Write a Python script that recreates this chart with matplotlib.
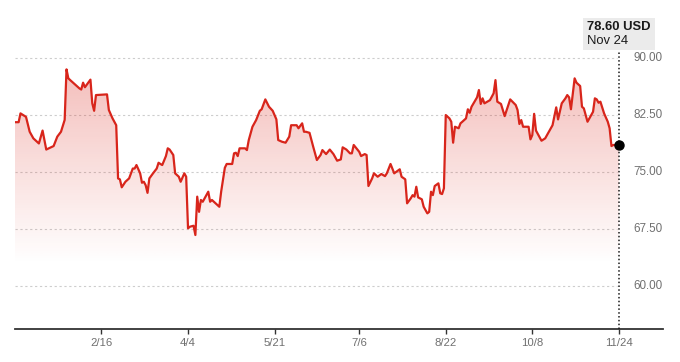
import numpy as np
import pandas as pd
import matplotlib
matplotlib.use("Agg")
import matplotlib.pyplot as plt
import matplotlib.dates as mdates
from matplotlib.patches import Rectangle

plt.rcParams['font.family'] = ['Liberation Sans', 'DejaVu Sans']

# price points (USD)
dates = [
    '2024-12-31', '2025-01-02', '2025-01-03', '2025-01-06', '2025-01-08', '2025-01-10',
    '2025-01-13', '2025-01-15', '2025-01-17', '2025-01-21', '2025-01-23', '2025-01-25',
    '2025-01-27', '2025-01-28', '2025-01-29', '2025-01-30', '2025-02-03', '2025-02-04',
    '2025-02-05', '2025-02-06', '2025-02-07', '2025-02-10', '2025-02-11', '2025-02-12',
    '2025-02-13', '2025-02-19', '2025-02-20', '2025-02-22', '2025-02-24', '2025-02-25',
    '2025-02-26', '2025-02-27', '2025-03-01', '2025-03-03', '2025-03-05', '2025-03-06',
    '2025-03-07', '2025-03-09', '2025-03-10', '2025-03-11', '2025-03-12', '2025-03-13',
    '2025-03-14', '2025-03-16', '2025-03-18', '2025-03-19', '2025-03-20', '2025-03-21',
    '2025-03-23', '2025-03-24', '2025-03-25', '2025-03-27', '2025-03-28', '2025-03-30',
    '2025-03-31', '2025-04-02', '2025-04-03', '2025-04-04', '2025-04-05', '2025-04-07',
    '2025-04-08', '2025-04-09', '2025-04-10', '2025-04-11', '2025-04-12', '2025-04-13',
    '2025-04-15', '2025-04-16', '2025-04-17', '2025-04-19', '2025-04-21', '2025-04-22',
    '2025-04-24', '2025-04-25', '2025-04-28', '2025-04-29', '2025-04-30', '2025-05-01',
    '2025-05-02', '2025-05-05', '2025-05-06', '2025-05-07', '2025-05-09', '2025-05-11',
    '2025-05-13', '2025-05-14', '2025-05-16', '2025-05-18', '2025-05-20', '2025-05-22',
    '2025-05-23', '2025-05-25', '2025-05-27', '2025-05-29', '2025-05-30', '2025-06-02',
    '2025-06-03', '2025-06-05', '2025-06-06', '2025-06-07', '2025-06-09', '2025-06-11',
    '2025-06-13', '2025-06-15', '2025-06-16', '2025-06-18', '2025-06-20', '2025-06-22',
    '2025-06-24', '2025-06-26', '2025-06-27', '2025-06-29', '2025-07-01', '2025-07-02',
    '2025-07-03', '2025-07-06', '2025-07-07', '2025-07-09', '2025-07-10', '2025-07-11',
    '2025-07-13', '2025-07-14', '2025-07-16', '2025-07-18', '2025-07-20', '2025-07-21',
    '2025-07-23', '2025-07-25', '2025-07-28', '2025-07-29', '2025-07-31', '2025-08-01',
    '2025-08-03', '2025-08-04', '2025-08-05', '2025-08-06', '2025-08-07', '2025-08-09',
    '2025-08-10', '2025-08-12', '2025-08-13', '2025-08-14', '2025-08-15', '2025-08-16',
    '2025-08-18', '2025-08-19', '2025-08-20', '2025-08-21', '2025-08-22', '2025-08-24',
    '2025-08-25', '2025-08-26', '2025-08-27', '2025-08-29', '2025-08-30', '2025-08-31',
    '2025-09-02', '2025-09-03', '2025-09-04', '2025-09-05', '2025-09-08', '2025-09-09',
    '2025-09-10', '2025-09-11', '2025-09-12', '2025-09-15', '2025-09-17', '2025-09-18',
    '2025-09-19', '2025-09-21', '2025-09-23', '2025-09-26', '2025-09-29', '2025-09-30',
    '2025-10-01', '2025-10-02', '2025-10-03', '2025-10-06', '2025-10-07', '2025-10-08',
    '2025-10-09', '2025-10-10', '2025-10-12', '2025-10-13', '2025-10-15', '2025-10-16',
    '2025-10-19', '2025-10-21', '2025-10-22', '2025-10-24', '2025-10-26', '2025-10-27',
    '2025-10-28', '2025-10-29', '2025-10-31', '2025-11-01', '2025-11-03', '2025-11-04',
    '2025-11-05', '2025-11-07', '2025-11-08', '2025-11-10', '2025-11-11', '2025-11-12',
    '2025-11-13', '2025-11-14', '2025-11-16', '2025-11-18', '2025-11-19', '2025-11-20',
    '2025-11-21', '2025-11-24',
]
prices = [
    81.6, 81.6, 82.76, 82.3, 80.34, 79.47,
    78.8, 80.5, 78.0, 78.46, 79.7, 80.34,
    81.9, 88.55, 87.37, 87.14, 86.26, 86.05,
    85.9, 86.8, 86.2, 87.2, 84.08, 83.1,
    85.17, 85.26, 83.2, 82.1, 81.2, 74.2,
    74.08, 73.03, 73.76, 74.2, 75.5, 75.5,
    75.96, 74.87, 73.63, 73.76, 73.3, 72.3,
    74.2, 74.87, 75.5, 76.26, 76.1, 75.96,
    77.14, 78.16, 78.0, 77.28, 74.87, 74.42,
    73.76, 74.87, 74.42, 67.63, 67.84, 67.97,
    66.75, 71.8, 69.8, 71.36, 71.13, 71.58,
    72.45, 71.13, 71.36, 70.92, 70.47, 72.45,
    75.6, 76.1, 76.1, 77.5, 77.58, 77.14,
    78.16, 78.16, 77.93, 79.25, 81.0, 81.88,
    83.1, 83.3, 84.6, 83.63, 83.1, 81.97,
    79.25, 79.03, 78.9, 79.7, 81.2, 81.2,
    80.8, 81.45, 80.34, 80.34, 80.2, 78.37,
    76.62, 77.28, 77.93, 77.4, 78.0, 77.4,
    76.53, 76.7, 78.29, 78.0, 77.5, 77.5,
    78.6, 77.7, 77.14, 77.4, 77.28, 73.2,
    74.2, 74.87, 74.42, 74.78, 74.5, 74.87,
    76.1, 74.87, 75.4, 74.42, 74.08, 70.92,
    71.58, 72.0, 71.8, 73.1, 71.7, 71.45,
    70.47, 69.6, 69.8, 72.45, 72.0, 73.2,
    73.55, 72.24, 72.14, 72.9, 82.54, 82.1,
    81.66, 78.9, 81.0, 80.8, 81.45, 81.66,
    82.1, 83.3, 82.84, 83.63, 84.87, 85.83,
    84.0, 84.74, 84.08, 84.5, 85.4, 87.14,
    84.3, 84.0, 82.4, 84.6, 83.86, 83.2,
    81.36, 81.88, 81.0, 81.0, 79.34, 79.9,
    82.7, 80.5, 79.6, 79.16, 79.47, 79.9,
    81.2, 83.55, 81.97, 84.08, 84.74, 85.17,
    84.87, 83.3, 87.37, 86.8, 86.36, 83.63,
    83.42, 81.66, 82.1, 82.97, 84.74, 84.6,
    84.16, 84.3, 82.76, 81.66, 80.8, 78.46,
    78.6, 78.6,
]

tick_dates = ['2025-02-16', '2025-04-04', '2025-05-21', '2025-07-06',
              '2025-08-22', '2025-10-08', '2025-11-24']
tick_labels = ['2/16', '4/4', '5/21', '7/6', '8/22', '10/8', '11/24']
y_levels = [60.0, 67.5, 75.0, 82.5, 90.0]
last_label = '78.60 USD'
last_date_label = 'Nov 24'

x = mdates.date2num(pd.to_datetime(dates))
y = np.array(prices)
x_end = x[-1]

red = '#d8251b'

fig = plt.figure(figsize=(6.8, 3.62), dpi=100)
ax = fig.add_axes([0.022, 0.092, 0.953, 0.858])

y_lo, y_hi = 54.42, 95.3
x_lo = x[0]
x_hi = mdates.date2num(pd.Timestamp('2025-12-18'))
ax.set_xlim(x_lo, x_hi)
ax.set_ylim(y_lo, y_hi)

# gridlines + labels inside on the right
for lv in y_levels:
    ax.plot([x_lo, x_end - 1.2], [lv, lv], color='#cdcdcd', lw=0.8,
            linestyle=(0, (2.0, 2.4)), zorder=1)
    ax.text(0.999, lv, '%.2f' % lv, transform=ax.get_yaxis_transform(),
            ha='right', va='center', fontsize=8.4, color='#707070')

# gradient fill under the line
poly = ax.fill_between(x, y, y_lo, color='none', lw=0)
g_top, g_bot = y.max(), 63.0
grad = np.linspace(1, 0, 256).reshape(-1, 1)
rgba = np.zeros((256, 1, 4))
rgba[..., 0] = 0.86
rgba[..., 1] = 0.16
rgba[..., 2] = 0.12
rgba[..., 3] = 0.30 * grad
img = ax.imshow(rgba, extent=[x_lo, x_end, g_bot, g_top], aspect='auto',
                origin='upper', zorder=2, interpolation='bilinear')
img.set_clip_path(poly.get_paths()[0], transform=ax.transData)

ax.plot(x, y, color=red, lw=1.6, zorder=3, solid_joinstyle='round')

# last value marker and dotted crosshair
ax.vlines(x_end, y_lo, 90.85, color='#1a1a1a', lw=1.1,
          linestyles=(0, (1.0, 1.5)), zorder=4)
ax.plot([x_end], [y[-1]], 'o', color='black', ms=6.5, zorder=5)

# tooltip box
ax.add_patch(Rectangle((x_end - 19.5, 91.1), 39, 4.2, facecolor='#ebebeb',
                       edgecolor='none', zorder=5, clip_on=False))
ax.text(x_end - 17.4, 94.1, last_label, fontsize=9.4, fontweight='bold',
        color='#1a1a1a', ha='left', va='center', zorder=6)
ax.text(x_end - 17.4, 92.25, last_date_label, fontsize=9.4,
        color='#1a1a1a', ha='left', va='center', zorder=6)

# axes styling
for s in ['top', 'right', 'left']:
    ax.spines[s].set_visible(False)
ax.spines['bottom'].set_color('#333333')
ax.spines['bottom'].set_linewidth(1.3)
ax.set_yticks([])
ax.set_xticks(mdates.date2num(pd.to_datetime(tick_dates)))
ax.set_xticklabels(tick_labels)
ax.tick_params(axis='x', direction='out', length=3.5, width=1.0, color='#333333',
               labelsize=8.2, labelcolor='#707070', pad=3)

fig.savefig('out.png', dpi=100)
